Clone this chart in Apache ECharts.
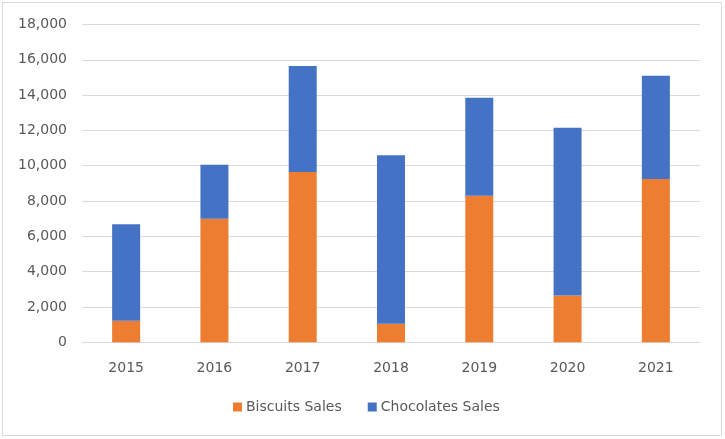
<!DOCTYPE html>
<html>
<head>
<meta charset="utf-8">
<script src="https://cdn.jsdelivr.net/npm/echarts@6/dist/echarts.min.js"></script>
<style>
html,body{margin:0;padding:0;background:#fff;}
#chart{width:725px;height:439px;}
</style>
</head>
<body>
<div id="chart"></div>
<script>
const categories = ['2015','2016','2017','2018','2019','2020','2021'];
const biscuitsSales = [1220, 7000, 9650, 1050, 8300, 2650, 9250];
const chocolatesSales = [5460, 3050, 6000, 9550, 5550, 9500, 5850];
const yTicks = {min: 0, max: 18000, interval: 2000};

const FONT = 'DejaVu Sans';
const chart = echarts.init(document.getElementById('chart'), null, {renderer: 'canvas'});
chart.setOption({
  animation: false,
  backgroundColor: '#ffffff',
  graphic: [{
    type: 'rect',
    shape: {x: 2.5, y: 2.5, width: 719, height: 433},
    style: {fill: 'none', stroke: '#d9d9d9', lineWidth: 1},
    silent: true
  }],
  grid: {left: 82, right: 25, top: 24.5, bottom: 96.7, containLabel: false},
  legend: {
    left: 228,
    top: 395,
    itemWidth: 9,
    itemHeight: 9,
    itemGap: 26,
    icon: 'rect',
    textStyle: {color: '#595959', fontFamily: FONT, fontSize: 14, padding: [0, 0, 0, -1]},
    data: ['Biscuits Sales', 'Chocolates Sales']
  },
  xAxis: {
    type: 'category',
    data: categories,
    axisLine: {show: true, lineStyle: {color: '#d9d9d9', width: 1}},
    axisTick: {show: false},
    axisLabel: {color: '#595959', fontFamily: FONT, fontSize: 14, margin: 19}
  },
  yAxis: {
    type: 'value',
    min: yTicks.min,
    max: yTicks.max,
    interval: yTicks.interval,
    axisLine: {show: false},
    axisTick: {show: false},
    splitLine: {lineStyle: {color: '#d9d9d9', width: 1}},
    axisLabel: {
      color: '#595959', fontFamily: FONT, fontSize: 14, margin: 15,
      formatter: v => v.toLocaleString('en-US')
    }
  },
  series: [
    {name: 'Biscuits Sales', type: 'bar', stack: 'total', data: biscuitsSales,
     barWidth: 28, itemStyle: {color: '#ED7D31'}},
    {name: 'Chocolates Sales', type: 'bar', stack: 'total', data: chocolatesSales,
     barWidth: 28, itemStyle: {color: '#4472C4'}}
  ]
});
</script>
</body>
</html>
